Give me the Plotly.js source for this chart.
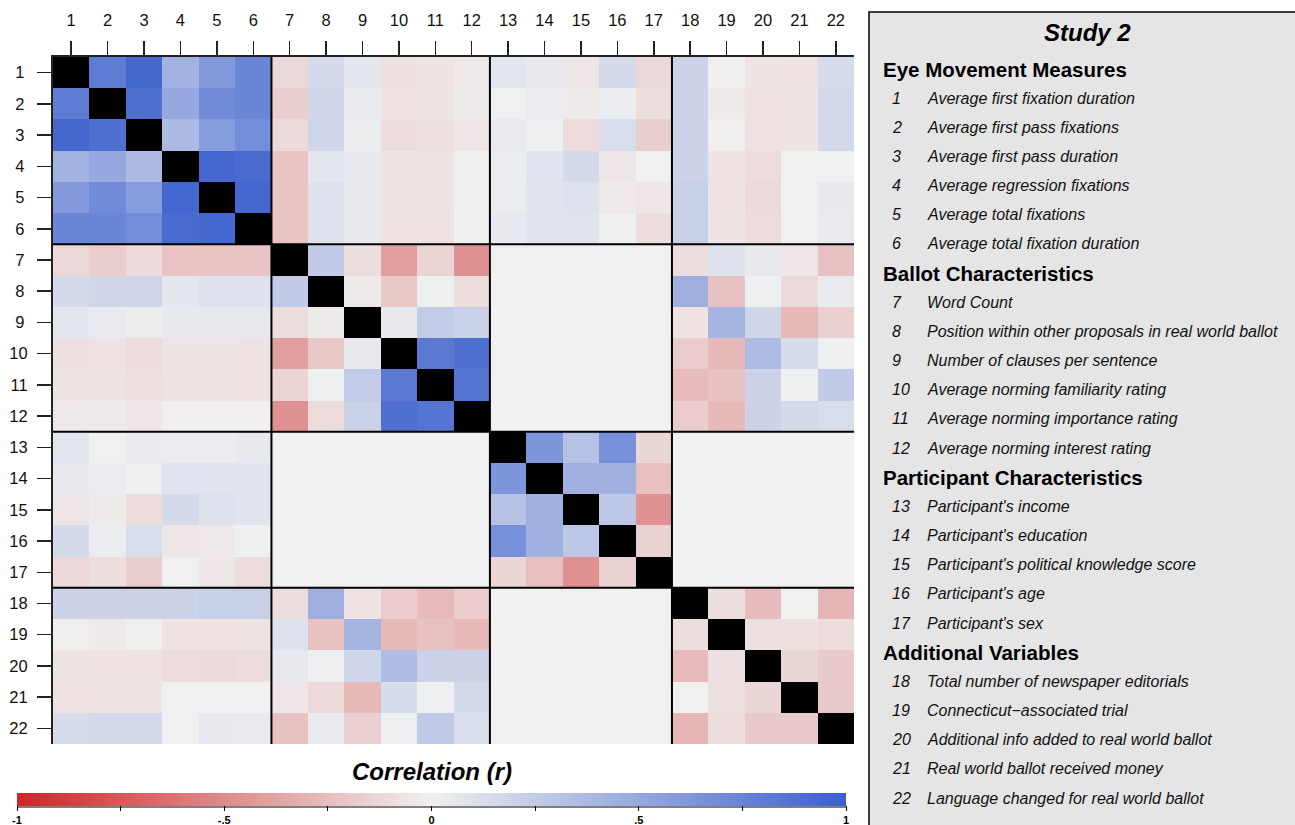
<!DOCTYPE html>
<html>
<head>
<meta charset="utf-8">
<script src="https://cdn.plot.ly/plotly-3.0.1.min.js"></script>
<style>html,body{margin:0;padding:0;background:#fff;}#chart{width:1295px;height:825px;}</style>
</head>
<body>
<div id="chart"></div>
<script>
// ---------- DATA ----------
const varIds = [1,2,3,4,5,6,7,8,9,10,11,12,13,14,15,16,17,18,19,20,21,22];

const groupNames = ['Eye Movement Measures','Ballot Characteristics','Participant Characteristics','Additional Variables'];
const groupSizes = [6,6,5,5];

const varLabels = [
  'Average first fixation duration',
  'Average first pass fixations',
  'Average first pass duration',
  'Average regression fixations',
  'Average total fixations',
  'Average total fixation duration',
  'Word Count',
  'Position within other proposals in real world ballot',
  'Number of clauses per sentence',
  'Average norming familiarity rating',
  'Average norming importance rating',
  'Average norming interest rating',
  "Participant's income",
  "Participant's education",
  "Participant's political knowledge score",
  "Participant's age",
  "Participant's sex",
  'Total number of newspaper editorials',
  'Connecticut\u2212associated trial',
  'Additional info added to real world ballot',
  'Real world ballot received money',
  'Language changed for real world ballot'
];

const N = null;
const corr = [
  [1,.80,.94,.43,.60,.73, -.12,.15,.06,-.08,-.06,-.04, .07,.05,-.05,.15,-.12, .20,-.01,-.06,-.07,.14],
  [.80,1,.88,.50,.70,.73, -.17,.18,.04,-.07,-.06,-.03, .00,.03,-.03,.03,-.09, .20,-.03,-.07,-.06,.16],
  [.94,.88,1,.38,.58,.68, -.11,.18,.02,-.10,-.08,-.05, .04,.01,-.10,.13,-.17, .20,-.01,-.07,-.06,.16],
  [.43,.50,.38,1,.95,.92, -.22,.06,.05,-.06,-.06,-.01, .03,.09,.15,-.05,.00, .20,-.07,-.10,.00,.00],
  [.60,.70,.58,.95,1,.95, -.22,.10,.05,-.06,-.06,-.01, .03,.08,.10,-.04,-.05, .22,-.07,-.11,.00,.05],
  [.73,.73,.68,.92,.95,1, -.22,.10,.05,-.07,-.07,-.01, .05,.08,.08,.01,-.10, .22,-.06,-.10,.00,.04],
  [-.12,-.17,-.11,-.22,-.22,-.22, 1,.26,-.09,-.40,-.14,-.47, N,N,N,N,N, -.09,.10,.05,-.05,-.23],
  [.15,.18,.18,.06,.10,.10, .26,1,-.03,-.20,.01,-.10, N,N,N,N,N, .45,-.23,.01,-.11,.04],
  [.06,.04,.02,.05,.05,.05, -.09,-.03,1,.05,.25,.21, N,N,N,N,N, -.07,.41,.18,-.27,-.16],
  [-.08,-.07,-.10,-.06,-.06,-.07, -.40,-.20,.05,1,.82,.88, N,N,N,N,N, -.18,-.27,.36,.14,.01],
  [-.06,-.06,-.08,-.06,-.06,-.07, -.14,.01,.25,.82,1,.85, N,N,N,N,N, -.26,-.23,.20,.01,.26],
  [-.04,-.03,-.05,-.01,-.01,-.01, -.47,-.10,.21,.88,.85,1, N,N,N,N,N, -.18,-.27,.20,.15,.13],
  [.07,.00,.04,.03,.03,.05, N,N,N,N,N,N, 1,.63,.32,.66,-.13, N,N,N,N,N],
  [.05,.03,.01,.09,.08,.08, N,N,N,N,N,N, .63,1,.45,.44,-.24, N,N,N,N,N],
  [-.05,-.03,-.10,.15,.10,.08, N,N,N,N,N,N, .32,.45,1,.28,-.47, N,N,N,N,N],
  [.15,.03,.13,-.05,-.04,.01, N,N,N,N,N,N, .66,.44,.28,1,-.15, N,N,N,N,N],
  [-.12,-.09,-.17,.00,-.05,-.10, N,N,N,N,N,N, -.13,-.24,-.47,-.15,1, N,N,N,N,N],
  [.20,.20,.20,.20,.22,.22, -.09,.45,-.07,-.18,-.26,-.18, N,N,N,N,N, 1,-.09,-.26,.00,-.29],
  [-.01,-.03,-.01,-.07,-.07,-.06, .10,-.23,.41,-.27,-.23,-.27, N,N,N,N,N, -.09,1,-.08,-.08,-.10],
  [-.06,-.07,-.07,-.10,-.11,-.10, .05,.01,.18,.36,.20,.20, N,N,N,N,N, -.26,-.08,1,-.13,-.19],
  [-.07,-.06,-.06,.00,.00,.00, -.05,-.11,-.27,.14,.01,.15, N,N,N,N,N, .00,-.08,-.13,1,-.19],
  [.14,.16,.16,.00,.05,.04, -.23,.04,-.16,.01,.26,.13, N,N,N,N,N, -.29,-.10,-.19,-.19,1]
];

const cbTickVals = [-1,-0.75,-0.5,-0.25,0,0.25,0.5,0.75,1];
const cbTickText = ['-1','','-.5','','0','','.5','','1'];

// ---------- LAYOUT HELPERS ----------
const W = 1295, Hh = 825;
const PL = 53, PR = 854, PT = 57, PB = 744;
const pw = PR - PL, ph = PB - PT;
const px2x = px => (px - PL) / pw;
const py2y = py => (PB - py) / ph;
const FONT = 'Liberation Sans, Arial, sans-serif';

const diag = corr.map((row, i) => row.map((v, j) => (i === j ? 1 : null)));

const traces = [
  {
    type: 'heatmap', x: varIds, y: varIds, z: corr,
    zmin: -1, zmax: 1,
    colorscale: [[0, '#CD2626'], [0.5, '#F0F0F0'], [1, '#3A5FCD']],
    hoverongaps: false,
    colorbar: {
      orientation: 'h',
      x: px2x(431.5), xanchor: 'center',
      y: py2y(793), yanchor: 'top',
      len: 829, lenmode: 'pixels',
      thickness: 13, thicknessmode: 'pixels',
      outlinewidth: 0, xpad: 0, ypad: 0,
      ticks: 'outside', ticklen: 5, tickwidth: 1, tickcolor: '#000',
      tickmode: 'array', tickvals: cbTickVals, ticktext: cbTickText,
      tickfont: {family: FONT, size: 11, color: '#000', weight: 'bold'}
    }
  },
  {
    type: 'heatmap', x: varIds, y: varIds, z: diag,
    zmin: 0, zmax: 1, showscale: false,
    colorscale: [[0, '#000000'], [1, '#000000']],
    hoverinfo: 'skip'
  }
];

// block separators
const shapes = [];
let cum = 0;
for (let g = 0; g < groupSizes.length - 1; g++) {
  cum += groupSizes[g];
  const p = cum + 0.5;
  shapes.push({type: 'line', xref: 'x', yref: 'y', x0: p, x1: p, y0: 0.5, y1: varIds.length + 0.5, line: {color: '#000', width: 2}});
  shapes.push({type: 'line', xref: 'x', yref: 'y', y0: p, y1: p, x0: 0.5, x1: varIds.length + 0.5, line: {color: '#000', width: 2}});
}
// colorbar axis line
shapes.push({type: 'line', xref: 'paper', yref: 'paper', x0: px2x(17), x1: px2x(846), y0: py2y(807), y1: py2y(807), line: {color: '#000', width: 1.2}});
// legend panel
shapes.push({type: 'rect', xref: 'paper', yref: 'paper', x0: px2x(869), x1: px2x(1310), y0: py2y(12), y1: py2y(840), fillcolor: '#E5E5E5', line: {color: '#000', width: 1.5}, layer: 'below'});

const annotations = [];
annotations.push({xref: 'paper', yref: 'paper', x: px2x(432), y: py2y(771), text: '<b><i>Correlation (r)</i></b>', showarrow: false, xanchor: 'center', yanchor: 'middle', font: {family: FONT, size: 24, color: '#000'}});
annotations.push({xref: 'paper', yref: 'paper', x: px2x(1087), y: py2y(32), text: '<b><i>Study 2</i></b>', showarrow: false, xanchor: 'center', yanchor: 'middle', font: {family: FONT, size: 24, color: '#000'}});

const lineY0 = 69, lineStep = 29.16;
let line = 0, idx = 0;
groupNames.forEach((gname, g) => {
  annotations.push({xref: 'paper', yref: 'paper', x: px2x(881), y: py2y(lineY0 + line * lineStep), text: '<b>' + gname + '</b>', showarrow: false, xanchor: 'left', yanchor: 'middle', font: {family: FONT, size: 20.5, color: '#000'}});
  line++;
  for (let k = 0; k < groupSizes[g]; k++) {
    const yy = py2y(lineY0 + line * lineStep);
    annotations.push({xref: 'paper', yref: 'paper', x: px2x(890), y: yy, text: '<i>' + varIds[idx] + '</i>', showarrow: false, xanchor: 'left', yanchor: 'middle', font: {family: FONT, size: 16, color: '#111'}});
    annotations.push({xref: 'paper', yref: 'paper', x: px2x(925), y: yy, text: '<i>' + varLabels[idx] + '</i>', showarrow: false, xanchor: 'left', yanchor: 'middle', font: {family: FONT, size: 16, color: '#111'}});
    idx++; line++;
  }
});

const layout = {
  width: W, height: Hh,
  margin: {l: PL, r: W - PR, t: PT, b: Hh - PB, pad: 0, autoexpand: false},
  paper_bgcolor: '#FFFFFF', plot_bgcolor: '#F1F1F1',
  font: {family: FONT, color: '#111'},
  showlegend: false,
  xaxis: {
    side: 'top', range: [0.5, varIds.length + 0.5], tickmode: 'array', tickvals: varIds, ticktext: varIds.map(String),
    ticks: 'outside', ticklen: 14, tickwidth: 1.5, tickcolor: '#222',
    showline: true, linecolor: '#222', linewidth: 2, mirror: false,
    showgrid: false, zeroline: false, ticklabelstandoff: 8,
    tickfont: {family: FONT, size: 16.5, color: '#111'}
  },
  yaxis: {
    range: [varIds.length + 0.5, 0.5], tickmode: 'array', tickvals: varIds,
    ticktext: varIds.map(v => v < 10 ? v + '\u2009' : String(v)),
    ticks: 'outside', ticklen: 14, tickwidth: 1.5, tickcolor: '#222',
    showline: true, linecolor: '#222', linewidth: 2, mirror: false,
    showgrid: false, zeroline: false, ticklabelstandoff: 6,
    tickfont: {family: FONT, size: 16.5, color: '#111'}
  },
  shapes: shapes,
  annotations: annotations
};

Plotly.newPlot('chart', traces, layout, {displayModeBar: false, staticPlot: true});
</script>
</body>
</html>
